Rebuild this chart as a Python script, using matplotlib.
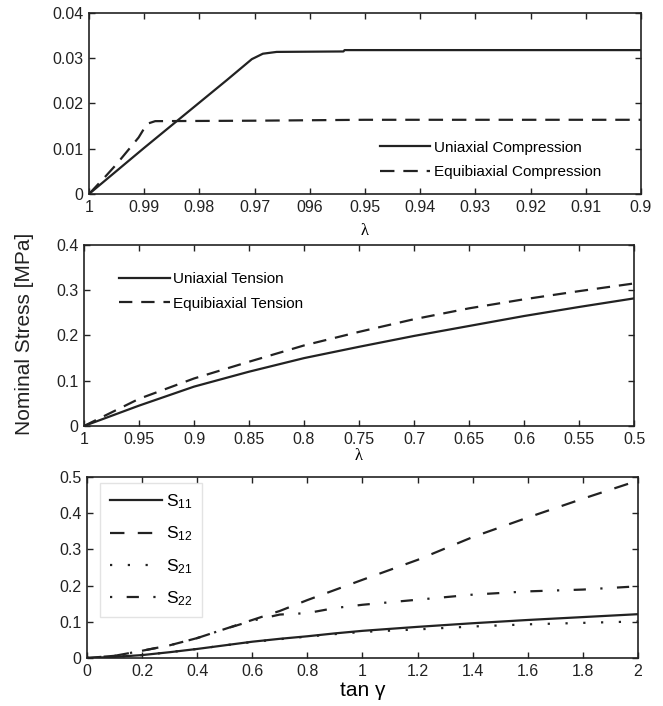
import matplotlib
matplotlib.use('Agg')
import matplotlib.pyplot as plt

plt.rcParams['font.family'] = ['Liberation Sans', 'DejaVu Sans']
plt.rcParams['mathtext.fontset'] = 'custom'
plt.rcParams['mathtext.rm'] = 'Liberation Sans'
plt.rcParams['mathtext.it'] = 'Liberation Sans:italic'

# Data
# compression (top)
lam_uc = [1.0, 0.99, 0.98, 0.975, 0.9705, 0.9685, 0.966, 0.9539, 0.9537, 0.9]
s_uc = [0.0, 0.0102, 0.0202, 0.0252, 0.0298, 0.0310, 0.0314, 0.0315, 0.0318, 0.0318]
lam_ec = [1.0, 0.997, 0.995, 0.991, 0.9895, 0.988, 0.97, 0.95, 0.9]
s_ec = [0.0, 0.0039, 0.0066, 0.0125, 0.0155, 0.0161, 0.0162, 0.0164, 0.0164]

# tension (middle)
lam_t = [1.0, 0.95, 0.9, 0.85, 0.8, 0.75, 0.7, 0.65, 0.6, 0.55, 0.5]
s_ut = [0.0, 0.045, 0.087, 0.120, 0.150, 0.175, 0.199, 0.221, 0.243, 0.263, 0.282]
s_et = [0.0, 0.060, 0.105, 0.142, 0.178, 0.208, 0.236, 0.260, 0.280, 0.298, 0.315]

# simple shear (bottom)
tan_g = [0.0, 0.1, 0.2, 0.3, 0.4, 0.5, 0.6, 0.7, 0.8, 0.9, 1.0, 1.2, 1.4, 1.6, 1.8, 2.0]
s11 = [0.0, 0.003, 0.008, 0.016, 0.025, 0.035, 0.045, 0.053, 0.060, 0.068, 0.075, 0.086, 0.096, 0.105, 0.113, 0.121]
s12 = [0.0, 0.006, 0.020, 0.035, 0.055, 0.080, 0.105, 0.130, 0.160, 0.188, 0.216, 0.271, 0.334, 0.388, 0.440, 0.490]
s21 = [0.0, 0.003, 0.008, 0.016, 0.025, 0.035, 0.044, 0.052, 0.059, 0.066, 0.072, 0.079, 0.087, 0.093, 0.097, 0.101]
s22 = [0.0, 0.006, 0.020, 0.035, 0.055, 0.080, 0.103, 0.120, 0.124, 0.138, 0.147, 0.161, 0.175, 0.184, 0.189, 0.198]

xt_top = [1, 0.99, 0.98, 0.97, 0.96, 0.95, 0.94, 0.93, 0.92, 0.91, 0.9]
xl_top = ['1', '0.99', '0.98', '0.97', '096', '0.95', '0.94', '0.93', '0.92', '0.91', '0.9']
yt_top = [0, 0.01, 0.02, 0.03, 0.04]
xt_mid = [1, 0.95, 0.9, 0.85, 0.8, 0.75, 0.7, 0.65, 0.6, 0.55, 0.5]
yt_mid = [0, 0.1, 0.2, 0.3, 0.4]
xt_bot = [0, 0.2, 0.4, 0.6, 0.8, 1, 1.2, 1.4, 1.6, 1.8, 2]
yt_bot = [0, 0.1, 0.2, 0.3, 0.4, 0.5]

def fmt(v):
    return ('%g' % v)

def style(ax):
    ax.tick_params(direction='in', top=True, right=True, length=4, width=1,
                   labelsize=11.5, pad=4, colors='#222222')
    for s in ax.spines.values():
        s.set_linewidth(1.2)
        s.set_color('#222222')

col = '#222222'
lw = 1.6

fig = plt.figure(figsize=(6.63, 7.06), dpi=100)
ax1 = fig.add_axes([0.1342, 0.7252, 0.8326, 0.2564])
ax2 = fig.add_axes([0.1267, 0.3966, 0.8296, 0.2564])
ax3 = fig.add_axes([0.1312, 0.0680, 0.8311, 0.2564])

# top
ax1.plot(lam_uc, s_uc, color=col, lw=lw, label='Uniaxial Compression')
ax1.plot(lam_ec, s_ec, color=col, lw=lw, ls=(0, (6.5, 4)), label='Equibiaxial Compression')
ax1.set_xlim(1, 0.9)
ax1.set_ylim(0, 0.04)
ax1.set_xticks(xt_top)
ax1.set_xticklabels(xl_top)
ax1.set_yticks(yt_top)
ax1.set_yticklabels([fmt(v) for v in yt_top])
ax1.set_xlabel('λ', fontfamily='Liberation Serif', fontsize=12, labelpad=6)
ax1.legend(loc='upper left', bbox_to_anchor=(0.527, 0.295), frameon=False, fontsize=11,
           borderpad=0, borderaxespad=0, handlelength=3.3, handletextpad=0.25, labelspacing=0.7)

# middle
ax2.plot(lam_t, s_ut, color=col, lw=lw, label='Uniaxial Tension')
ax2.plot(lam_t, s_et, color=col, lw=lw, ls=(0, (6, 4)), label='Equibiaxial Tension')
ax2.set_xlim(1, 0.5)
ax2.set_ylim(0, 0.4)
ax2.set_xticks(xt_mid)
ax2.set_xticklabels([fmt(v) for v in xt_mid])
ax2.set_yticks(yt_mid)
ax2.set_yticklabels([fmt(v) for v in yt_mid])
ax2.set_xlabel('λ', fontfamily='Liberation Serif', fontsize=12, labelpad=1)
ax2.legend(loc='upper left', bbox_to_anchor=(0.064, 0.85), frameon=False, fontsize=11,
           borderpad=0, borderaxespad=0, handlelength=3.3, handletextpad=0.25, labelspacing=0.7)

# bottom
ax3.plot(tan_g, s11, color=col, lw=lw, label='S$_{11}$')
ax3.plot(tan_g, s12, color=col, lw=lw, ls=(0, (6.5, 6)), label='S$_{12}$')
ax3.plot(tan_g, s21, color=col, lw=lw, ls=(0, (1, 7)), label='S$_{21}$')
ax3.plot(tan_g, s22, color=col, lw=lw, ls=(0, (1, 6.5, 5.5, 6.5)), label='S$_{22}$')
ax3.set_xlim(0, 2)
ax3.set_ylim(0, 0.5)
ax3.set_xticks(xt_bot)
ax3.set_xticklabels([fmt(v) for v in xt_bot])
ax3.set_yticks(yt_bot)
ax3.set_yticklabels([fmt(v) for v in yt_bot])
ax3.set_xlabel('tan γ', fontsize=15, labelpad=2)
leg = ax3.legend(loc='upper left', bbox_to_anchor=(0.024, 0.967), frameon=True, fancybox=False,
                 fontsize=12.5, borderaxespad=0, handlelength=3.0, handletextpad=0.25,
                 labelspacing=0.78, borderpad=0.55)
leg.get_frame().set_edgecolor('#dddddd')
leg.get_frame().set_linewidth(1.0)

for ax in (ax1, ax2, ax3):
    style(ax)

fig.text(24 / 663, 0.5276, 'Nominal Stress [MPa]', rotation=90, fontsize=15,
         ha='center', va='center', color='#222222')

plt.savefig('out.png', dpi=100)
